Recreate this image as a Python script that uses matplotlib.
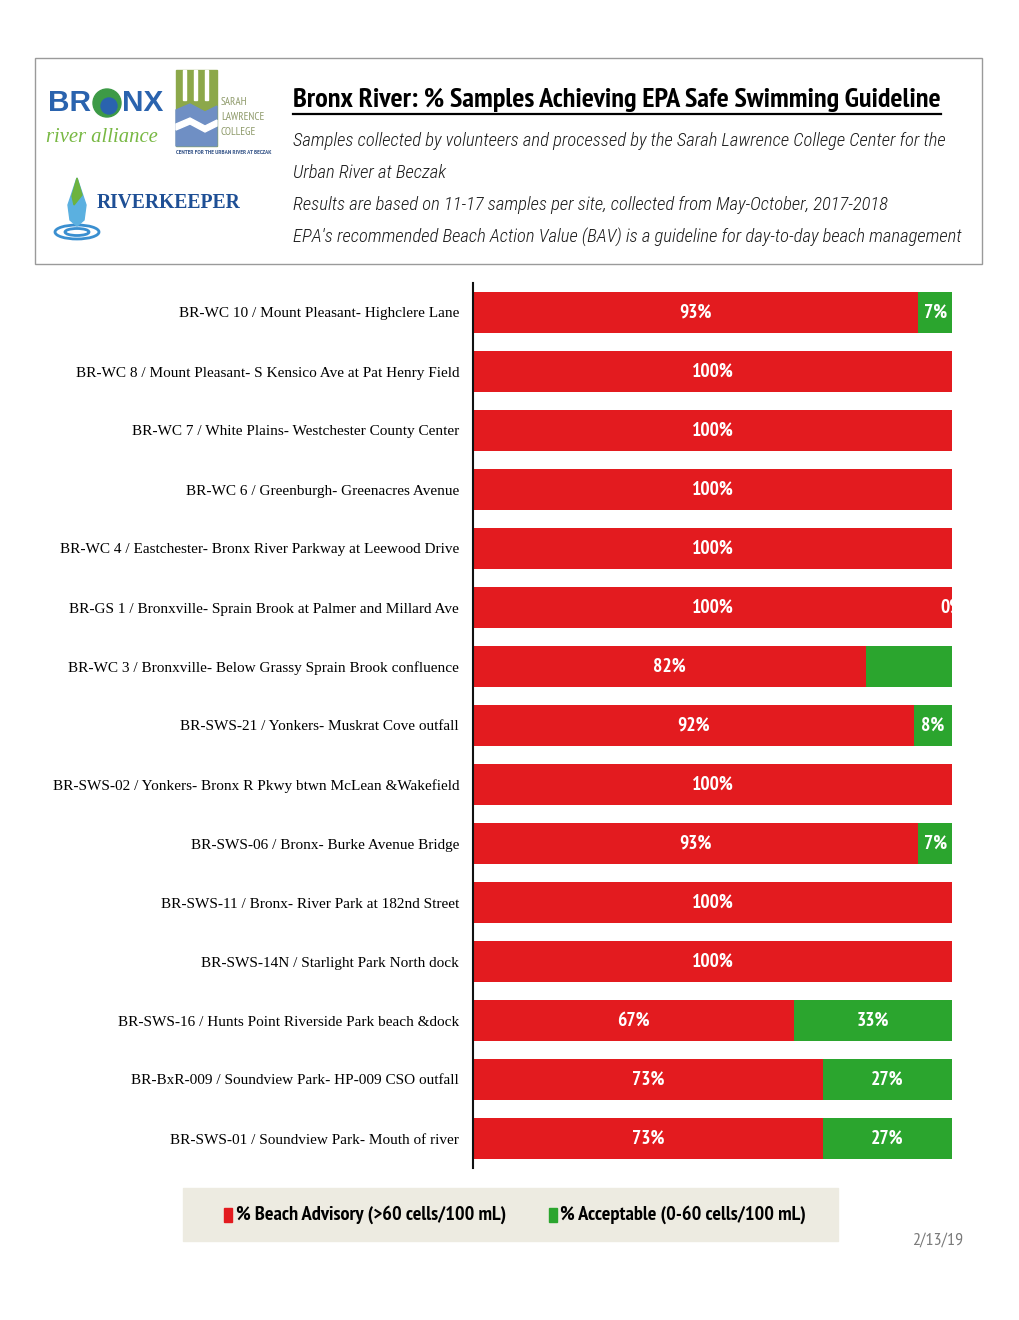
import matplotlib
matplotlib.use("Agg")
import matplotlib.pyplot as plt
from matplotlib.patches import Rectangle, Ellipse, Circle, Polygon
import numpy as np

# dane (od góry do dołu)
sites = [
    "BR-WC 10 / Mount Pleasant- Highclere Lane",
    "BR-WC 8 / Mount Pleasant- S Kensico Ave at Pat Henry Field",
    "BR-WC 7 / White Plains- Westchester County Center",
    "BR-WC 6 / Greenburgh- Greenacres Avenue",
    "BR-WC 4 / Eastchester- Bronx River Parkway at Leewood Drive",
    "BR-GS 1 / Bronxville- Sprain Brook at Palmer and Millard Ave",
    "BR-WC 3 / Bronxville- Below Grassy Sprain Brook confluence",
    "BR-SWS-21 / Yonkers- Muskrat Cove outfall",
    "BR-SWS-02 / Yonkers- Bronx R Pkwy btwn McLean &Wakefield",
    "BR-SWS-06 / Bronx- Burke Avenue Bridge",
    "BR-SWS-11 / Bronx- River Park at 182nd Street",
    "BR-SWS-14N / Starlight Park North dock",
    "BR-SWS-16 / Hunts Point Riverside Park beach &dock",
    "BR-BxR-009 / Soundview Park- HP-009 CSO outfall",
    "BR-SWS-01 / Soundview Park- Mouth of river",
]
advisory = [93, 100, 100, 100, 100, 100, 82, 92, 100, 93, 100, 100, 67, 73, 73]
acceptable = [7, 0, 0, 0, 0, 0, 18, 8, 0, 7, 0, 0, 33, 27, 27]
advisory_labels = ["93%", "100%", "100%", "100%", "100%", "100%", "82%", "92%",
                   "100%", "93%", "100%", "100%", "67%", "73%", "73%"]
acceptable_labels = ["7%", "", "", "", "", "0%", "", "8%", "", "7%", "", "",
                     "33%", "27%", "27%"]

title = "Bronx River: % Samples Achieving EPA Safe Swimming Guideline"
subtitle = [
    "Samples collected by volunteers and processed by the Sarah Lawrence College Center for the",
    "Urban River at Beczak",
    "Results are based on 11-17 samples per site, collected from May-October, 2017-2018",
    "EPA's recommended Beach Action Value (BAV) is a guideline for day-to-day beach management",
]
legend_labels = ["% Beach Advisory (>60 cells/100 mL)", "% Acceptable (0-60 cells/100 mL)"]

RED = "#E31B1F"
GREEN = "#2BA52E"
NARROW = ["PT Sans Narrow", "DejaVu Sans"]
NARROW_IT = ["Roboto Condensed", "DejaVu Sans"]
SERIF = ["Liberation Serif", "DejaVu Serif"]

fig = plt.figure(figsize=(10.2, 13.2), dpi=100)
bg = fig.add_axes([0, 0, 1, 1])
bg.set_xlim(0, 1020)
bg.set_ylim(1320, 0)
bg.axis("off")
renderer = fig.canvas.get_renderer()


def fit(t, width):
    w = t.get_window_extent(renderer).width
    t.set_fontsize(t.get_fontsize() * width / w)
    return t


# ramka nagłówka
bg.add_patch(Rectangle((35, 58), 947, 206, fill=False, ec="#9a9a9a", lw=1))

t = bg.text(293, 100, title, family=NARROW, weight="bold", fontsize=20,
            va="center", ha="left", color="black")
fit(t, 648)
bb = t.get_window_extent(renderer)
bg.plot([293, 293 + bb.width], [114, 114], color="black", lw=1.6)

subs = []
for i, line in enumerate(subtitle):
    subs.append(bg.text(293, 141 + 32 * i, line, family=NARROW_IT, style="italic",
                        weight="light", fontsize=16, va="center", ha="left",
                        color="#1a1a1a"))
fit(subs[0], 655)
for s in subs[1:]:
    s.set_fontsize(subs[0].get_fontsize())

# logo Bronx River Alliance (przybliżenie)
br = bg.text(48, 103, "BR", family=["Liberation Sans", "DejaVu Sans"], weight="bold",
             fontsize=24, color="#2A63AE", va="center", ha="left")
fit(br, 43)
bg.add_patch(Circle((107, 103), 14, color="#3D9A46"))
bg.add_patch(Circle((109, 106), 8, color="#2A63AE"))
nx = bg.text(122, 103, "NX", family=["Liberation Sans", "DejaVu Sans"], weight="bold",
             fontsize=br.get_fontsize(), color="#2A63AE", va="center", ha="left")
ra = bg.text(46, 138, "river alliance", family=SERIF, style="italic", fontsize=15,
             color="#78B843", va="center", ha="left")
fit(ra, 112)

# logo Sarah Lawrence (przybliżenie)
bg.add_patch(Rectangle((176, 70), 41, 76, color="#8CA84A"))
for x in (183, 194, 205):
    bg.add_patch(Rectangle((x, 70), 3, 30, color="white"))
bg.add_patch(Polygon([(176, 110), (190, 104), (205, 112), (217, 106), (217, 146), (176, 146)],
                     color="#6F8FC4"))
bg.add_patch(Polygon([(176, 124), (190, 118), (205, 126), (217, 120), (217, 126),
                      (205, 132), (190, 124), (176, 130)], color="white"))
for i, w in enumerate(["SARAH", "LAWRENCE", "COLLEGE"]):
    bg.text(221, 102 + 15 * i, w, family=NARROW, fontsize=8, color="#8E9A6A",
            va="center", ha="left")
c = bg.text(176, 152, "CENTER FOR THE URBAN RIVER AT BECZAK", family=NARROW,
            weight="bold", fontsize=5, color="#3C5A8C", va="center", ha="left")
fit(c, 98)

# logo Riverkeeper (przybliżenie)
bg.add_patch(Ellipse((77, 232), 44, 14, fill=False, ec="#3A8FD0", lw=2))
bg.add_patch(Ellipse((77, 232), 24, 7, fill=False, ec="#3A8FD0", lw=2))
bg.add_patch(Polygon([(77, 178), (86, 205), (84, 220), (77, 226), (70, 220), (68, 205)],
                     color="#5BB0E0"))
bg.add_patch(Polygon([(77, 178), (82, 195), (74, 205), (72, 196)], color="#6DB33F"))
r = bg.text(97, 203, "RIVERKEEPER", family=SERIF, weight="bold", fontsize=20,
            color="#1E4F95", va="center", ha="left")
fit(r, 143)

# wykres słupkowy
ax = fig.add_axes([473 / 1020, 1 - 1168 / 1320, 479 / 1020, 885 / 1320])
y = np.arange(len(sites))
ax.barh(y, advisory, height=0.68, color=RED, edgecolor="none")
ax.barh(y, acceptable, left=advisory, height=0.68, color=GREEN, edgecolor="none")
ax.set_xlim(0, 100)
ax.set_ylim(len(sites) - 0.5, -0.5)

for i in range(len(sites)):
    ax.text(advisory[i] / 2, i, advisory_labels[i], ha="center", va="center",
            color="white", weight="bold", family=NARROW, fontsize=14)
    if acceptable_labels[i]:
        ax.text(advisory[i] + acceptable[i] / 2, i, acceptable_labels[i], ha="center",
                va="center", color="white", weight="bold", family=NARROW,
                fontsize=14, clip_on=True)

ax.set_yticks(y)
ax.set_yticklabels(sites, family=SERIF, fontsize=12, color="black")
ax.tick_params(axis="y", length=0, pad=10)
ax.set_xticks([])
for side in ("top", "right", "bottom"):
    ax.spines[side].set_visible(False)
ax.spines["left"].set_linewidth(1.5)
ax.spines["left"].set_color("#111111")

longest = max(ax.get_yticklabels(), key=lambda tl: tl.get_window_extent(renderer).width)
scale = 405 / longest.get_window_extent(renderer).width
for tl in ax.get_yticklabels():
    tl.set_fontsize(12 * scale)

# legenda
bg.add_patch(Rectangle((183, 1188), 655, 53, color="#EDEBE1", zorder=0))
bg.add_patch(Rectangle((224, 1208), 8, 14, color=RED))
l1 = bg.text(236, 1215, legend_labels[0], family=NARROW, weight="bold", fontsize=16,
             va="center", ha="left")
fit(l1, 271)
bg.add_patch(Rectangle((549, 1208), 8, 14, color=GREEN))
bg.text(560, 1215, legend_labels[1], family=NARROW, weight="bold",
        fontsize=l1.get_fontsize(), va="center", ha="left")

bg.text(963, 1241, "2/13/19", family=NARROW, fontsize=13, color="#7a7a7a",
        va="center", ha="right")

fig.savefig("out.png", dpi=100)
